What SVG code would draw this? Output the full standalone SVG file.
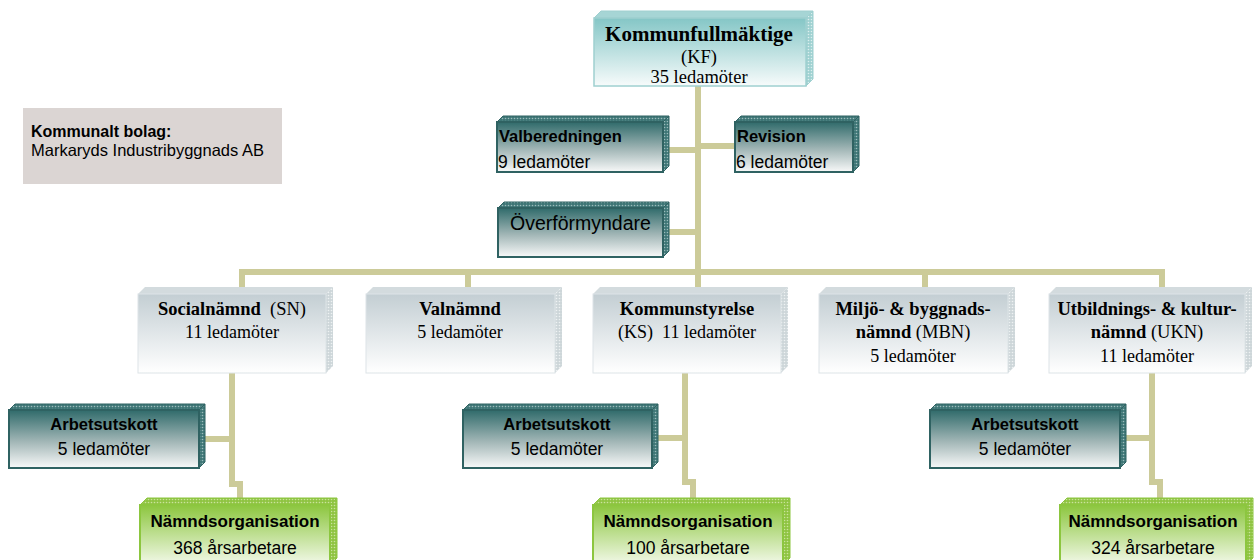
<svg xmlns="http://www.w3.org/2000/svg" width="1259" height="560" viewBox="0 0 1259 560">
<style>
.serif{font-family:"Liberation Serif","Times New Roman",serif;fill:#000}
.sans{font-family:"Liberation Sans",Arial,sans-serif;fill:#000}
.b{font-weight:bold}
.conn{fill:none;stroke:#cccb99;stroke-width:6;stroke-linecap:butt;stroke-linejoin:miter}
</style>
<defs>
<linearGradient id="gKF" x1="0" y1="0" x2="0" y2="1"><stop offset="0" stop-color="#84c6c6"/><stop offset="1" stop-color="#f7fbfb"/></linearGradient>
<linearGradient id="gDark" x1="0" y1="0" x2="0" y2="1"><stop offset="0" stop-color="#306b6b"/><stop offset="0.55" stop-color="#a3b7b7"/><stop offset="1" stop-color="#f8f9f9"/></linearGradient>
<linearGradient id="gGray" x1="0" y1="0" x2="0" y2="1"><stop offset="0" stop-color="#c3ced3"/><stop offset="1" stop-color="#ffffff"/></linearGradient>
<linearGradient id="gGreen" x1="0" y1="0" x2="0" y2="1"><stop offset="0" stop-color="#8cc63e"/><stop offset="1" stop-color="#f3f9ea"/></linearGradient>
<pattern id="pKF" width="3" height="3" patternUnits="userSpaceOnUse"><rect width="3" height="3" fill="#9fd1d1"/><circle cx="1.5" cy="1.5" r="0.8" fill="#dcefef"/></pattern>
<pattern id="pDark" width="3" height="3" patternUnits="userSpaceOnUse"><rect width="3" height="3" fill="#3e7676"/><circle cx="1.5" cy="1.5" r="0.8" fill="#9bbcbc"/></pattern>
<pattern id="pGray" width="3" height="3" patternUnits="userSpaceOnUse"><rect width="3" height="3" fill="#cdd6d9"/><circle cx="1.5" cy="1.5" r="0.8" fill="#eef2f3"/></pattern>
<pattern id="pGreen" width="3" height="3" patternUnits="userSpaceOnUse"><rect width="3" height="3" fill="#8fc442"/><circle cx="1.5" cy="1.5" r="0.8" fill="#c9e39c"/></pattern>
</defs>
<rect width="1259" height="560" fill="#ffffff"/>

<g id="connectors">
<path class="conn" d="M698,86 V290"/>
<path class="conn" d="M669,150 H698"/>
<path class="conn" d="M698,146 H735"/>
<path class="conn" d="M669,232 H698"/>
<path class="conn" d="M242,290 V272 H1162 V290"/>
<path class="conn" d="M468,272 V290"/>
<path class="conn" d="M925,272 V290"/>
<path class="conn" d="M232,373 V484 H240 V500"/>
<path class="conn" d="M205,439 H232"/>
<path class="conn" d="M685,373 V482 H693 V500"/>
<path class="conn" d="M658,438 H685"/>
<path class="conn" d="M1152,373 V482 H1160 V500"/>
<path class="conn" d="M1126,438 H1152"/>
</g>

<g id="bolag">
<rect x="23" y="108" width="259" height="76" fill="#dbd5d3"/>
<text class="sans b" x="31" y="137" font-size="16">Kommunalt bolag:</text>
<text class="sans" x="31" y="156" font-size="16.5">Markaryds Industribyggnads AB</text>
</g>

<g id="kf">
<polygon points="594,18 601,11 813,11 806,18" fill="#a6d5d5" stroke="#9fd0d0" stroke-width="1"/>
<polygon points="806,18 813,11 813,79 806,86" fill="url(#pKF)" stroke="#9fd0d0" stroke-width="1"/>
<rect x="594" y="18" width="212" height="68" fill="url(#gKF)" stroke="#9fd0d0" stroke-width="1.5"/>
<text class="serif b" x="699" y="41" font-size="21" text-anchor="middle">Kommunfullmäktige</text>
<text class="serif" x="699" y="63" font-size="18.5" text-anchor="middle">(KF)</text>
<text class="serif" x="699" y="83" font-size="18.5" text-anchor="middle">35 ledamöter</text>
</g>

<g id="valberedningen">
<polygon points="497,122 503,116 669,116 663,122" fill="url(#pDark)" stroke="#2f6262" stroke-width="1"/>
<polygon points="663,122 669,116 669,166 663,172" fill="url(#pDark)" stroke="#2f6262" stroke-width="1"/>
<rect x="497" y="122" width="166" height="50" fill="url(#gDark)" stroke="#2f6262" stroke-width="2"/>
<text class="sans b" x="499" y="142" font-size="16.5">Valberedningen</text>
<text class="sans" x="498" y="168" font-size="17.5">9 ledamöter</text>
</g>

<g id="revision">
<polygon points="735,122 741,116 859,116 853,122" fill="url(#pDark)" stroke="#2f6262" stroke-width="1"/>
<polygon points="853,122 859,116 859,166 853,172" fill="url(#pDark)" stroke="#2f6262" stroke-width="1"/>
<rect x="735" y="122" width="118" height="50" fill="url(#gDark)" stroke="#2f6262" stroke-width="2"/>
<text class="sans b" x="737" y="142" font-size="16.5">Revision</text>
<text class="sans" x="736" y="168" font-size="17.5">6 ledamöter</text>
</g>

<g id="overformyndare">
<polygon points="498,208 504,202 669,202 663,208" fill="url(#pDark)" stroke="#2f6262" stroke-width="1"/>
<polygon points="663,208 669,202 669,251 663,257" fill="url(#pDark)" stroke="#2f6262" stroke-width="1"/>
<rect x="498" y="208" width="165" height="49" fill="url(#gDark)" stroke="#2f6262" stroke-width="2"/>
<text class="sans" x="510" y="230" font-size="19.5">Överförmyndare</text>
</g>

<g id="socialnamnd">
<polygon points="138,294 145,287 333,287 326,294" fill="#d3dbde"/>
<polygon points="326,294 333,287 333,366 326,373" fill="url(#pGray)"/>
<rect x="138" y="294" width="188" height="79" fill="url(#gGray)" stroke="#dde4e7" stroke-width="1"/>
<text class="serif" x="232" y="315" font-size="18.5" text-anchor="middle" xml:space="preserve"><tspan class="b">Socialnämnd</tspan>  (SN)</text>
<text class="serif" x="232" y="338" font-size="18" text-anchor="middle">11 ledamöter</text>
</g>

<g id="valnamnd">
<polygon points="366,294 373,287 562,287 555,294" fill="#d3dbde"/>
<polygon points="555,294 562,287 562,366 555,373" fill="url(#pGray)"/>
<rect x="366" y="294" width="189" height="79" fill="url(#gGray)" stroke="#dde4e7" stroke-width="1"/>
<text class="serif b" x="460" y="315" font-size="18.5" text-anchor="middle">Valnämnd</text>
<text class="serif" x="460" y="338" font-size="18" text-anchor="middle">5 ledamöter</text>
</g>

<g id="kommunstyrelse">
<polygon points="593,294 600,287 788,287 781,294" fill="#d3dbde"/>
<polygon points="781,294 788,287 788,366 781,373" fill="url(#pGray)"/>
<rect x="593" y="294" width="188" height="79" fill="url(#gGray)" stroke="#dde4e7" stroke-width="1"/>
<text class="serif b" x="687" y="315" font-size="18.5" text-anchor="middle">Kommunstyrelse</text>
<text class="serif" x="687" y="338" font-size="18" text-anchor="middle" xml:space="preserve">(KS)  11 ledamöter</text>
</g>

<g id="miljo">
<polygon points="819,294 826,287 1015,287 1008,294" fill="#d3dbde"/>
<polygon points="1008,294 1015,287 1015,366 1008,373" fill="url(#pGray)"/>
<rect x="819" y="294" width="189" height="79" fill="url(#gGray)" stroke="#dde4e7" stroke-width="1"/>
<text class="serif b" x="913" y="315" font-size="18.5" text-anchor="middle">Miljö- &amp; byggnads-</text>
<text class="serif" x="913" y="338" font-size="18.5" text-anchor="middle"><tspan class="b">nämnd</tspan> (MBN)</text>
<text class="serif" x="913" y="362" font-size="18" text-anchor="middle">5 ledamöter</text>
</g>

<g id="ukn">
<polygon points="1049,294 1056,287 1252,287 1245,294" fill="#d3dbde"/>
<polygon points="1245,294 1252,287 1252,366 1245,373" fill="url(#pGray)"/>
<rect x="1049" y="294" width="196" height="79" fill="url(#gGray)" stroke="#dde4e7" stroke-width="1"/>
<text class="serif b" x="1147" y="315" font-size="18.5" text-anchor="middle">Utbildnings- &amp; kultur-</text>
<text class="serif" x="1147" y="338" font-size="18.5" text-anchor="middle"><tspan class="b">nämnd</tspan> (UKN)</text>
<text class="serif" x="1147" y="362" font-size="18" text-anchor="middle">11 ledamöter</text>
</g>

<g id="au-sn">
<polygon points="9,410 15,404 205,404 199,410" fill="url(#pDark)" stroke="#2f6262" stroke-width="1"/>
<polygon points="199,410 205,404 205,462 199,468" fill="url(#pDark)" stroke="#2f6262" stroke-width="1"/>
<rect x="9" y="410" width="190" height="58" fill="url(#gDark)" stroke="#2f6262" stroke-width="2"/>
<text class="sans b" x="104" y="430" font-size="16.5" text-anchor="middle">Arbetsutskott</text>
<text class="sans" x="104" y="455" font-size="17.5" text-anchor="middle">5 ledamöter</text>
</g>

<g id="au-ks">
<polygon points="463,410 469,404 658,404 652,410" fill="url(#pDark)" stroke="#2f6262" stroke-width="1"/>
<polygon points="652,410 658,404 658,462 652,468" fill="url(#pDark)" stroke="#2f6262" stroke-width="1"/>
<rect x="463" y="410" width="189" height="58" fill="url(#gDark)" stroke="#2f6262" stroke-width="2"/>
<text class="sans b" x="557" y="430" font-size="16.5" text-anchor="middle">Arbetsutskott</text>
<text class="sans" x="557" y="455" font-size="17.5" text-anchor="middle">5 ledamöter</text>
</g>

<g id="au-ukn">
<polygon points="930,410 936,404 1126,404 1120,410" fill="url(#pDark)" stroke="#2f6262" stroke-width="1"/>
<polygon points="1120,410 1126,404 1126,462 1120,468" fill="url(#pDark)" stroke="#2f6262" stroke-width="1"/>
<rect x="930" y="410" width="190" height="58" fill="url(#gDark)" stroke="#2f6262" stroke-width="2"/>
<text class="sans b" x="1025" y="430" font-size="16.5" text-anchor="middle">Arbetsutskott</text>
<text class="sans" x="1025" y="455" font-size="17.5" text-anchor="middle">5 ledamöter</text>
</g>

<g id="org-sn">
<polygon points="140,505 147,498 337,498 330,505" fill="url(#pGreen)" stroke="#8cc63f" stroke-width="1"/>
<polygon points="330,505 337,498 337,558 330,565" fill="url(#pGreen)" stroke="#8cc63f" stroke-width="1"/>
<rect x="140" y="505" width="190" height="60" fill="url(#gGreen)" stroke="#8cc63f" stroke-width="2"/>
<text class="sans b" x="235" y="527" font-size="17" text-anchor="middle">Nämndsorganisation</text>
<text class="sans" x="235" y="554" font-size="17.5" text-anchor="middle">368 årsarbetare</text>
</g>

<g id="org-ks">
<polygon points="593,505 600,498 790,498 783,505" fill="url(#pGreen)" stroke="#8cc63f" stroke-width="1"/>
<polygon points="783,505 790,498 790,558 783,565" fill="url(#pGreen)" stroke="#8cc63f" stroke-width="1"/>
<rect x="593" y="505" width="190" height="60" fill="url(#gGreen)" stroke="#8cc63f" stroke-width="2"/>
<text class="sans b" x="688" y="527" font-size="17" text-anchor="middle">Nämndsorganisation</text>
<text class="sans" x="688" y="554" font-size="17.5" text-anchor="middle">100 årsarbetare</text>
</g>

<g id="org-ukn">
<polygon points="1060,505 1067,498 1253,498 1246,505" fill="url(#pGreen)" stroke="#8cc63f" stroke-width="1"/>
<polygon points="1246,505 1253,498 1253,558 1246,565" fill="url(#pGreen)" stroke="#8cc63f" stroke-width="1"/>
<rect x="1060" y="505" width="186" height="60" fill="url(#gGreen)" stroke="#8cc63f" stroke-width="2"/>
<text class="sans b" x="1153" y="527" font-size="17" text-anchor="middle">Nämndsorganisation</text>
<text class="sans" x="1153" y="554" font-size="17.5" text-anchor="middle">324 årsarbetare</text>
</g>
</svg>
